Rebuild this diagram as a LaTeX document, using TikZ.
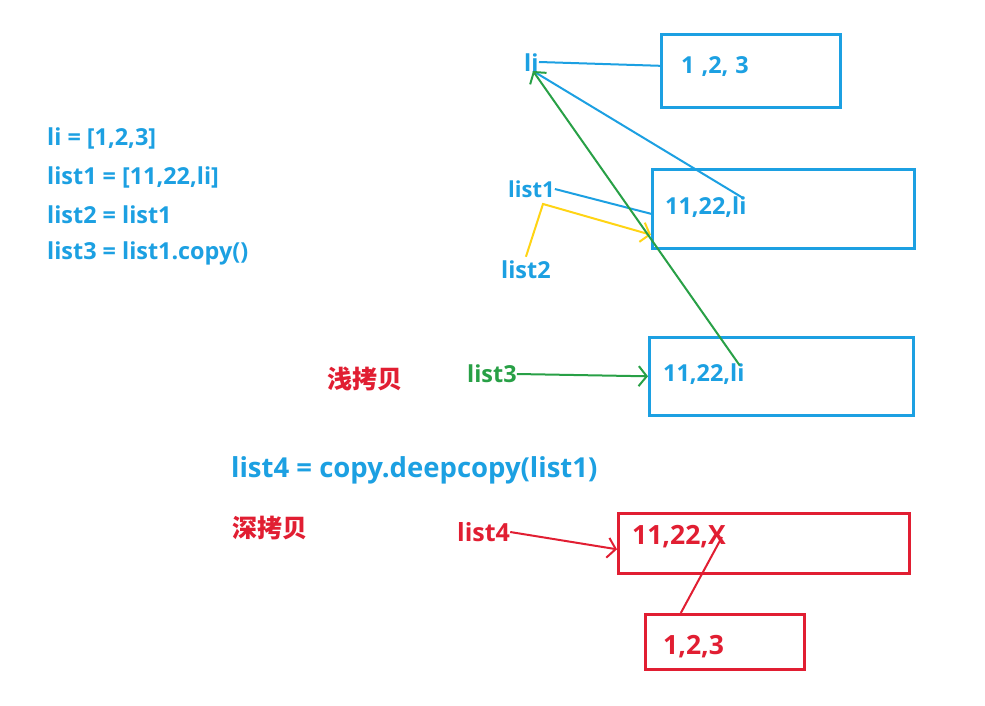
\documentclass[tikz,border=0pt]{standalone}
\usepackage{fontspec}
\setmainfont{Open Sans}
\newfontfamily\cjk{Noto Sans CJK SC}
\usetikzlibrary{arrows.meta}
\definecolor{cblue}{RGB}{28,160,226}
\definecolor{cgreen}{RGB}{40,160,70}
\definecolor{cred}{RGB}{225,30,50}
\definecolor{cyellow}{RGB}{255,212,20}
\tikzset{
  txt/.style={font=\fontsize{23.4}{26}\selectfont\bfseries, inner sep=0pt, anchor=west},
  bigtxt/.style={font=\fontsize{26.5}{30}\selectfont\bfseries, inner sep=0pt, anchor=west},
  cjktxt/.style={font=\fontsize{25}{28}\selectfont\cjk\bfseries, inner sep=0pt},
  bbox/.style={draw=cblue, line width=2.6pt, anchor=north west, inner sep=0pt},
  rbox/.style={draw=cred, line width=2.6pt, anchor=north west, inner sep=0pt},
  conn/.style={line width=2pt},
  barb/.style={-{Straight Barb[length=8pt,width=20pt,line width=2pt]}},
}
\begin{document}
\begin{tikzpicture}[x=1pt,y=-1pt]
\useasboundingbox[fill=white] (0,0) rectangle (985,706);
% code lines
\node[txt, text=cblue] (c1) at (47,138) {li = [1,2,3]};
\node[txt, text=cblue] (c2) at (47,177) {list1 = [11,22,li]};
\node[txt, text=cblue] (c3) at (47,215) {list2 = list1};
\node[txt, text=cblue] (c4) at (47,253) {list3 = list1.copy()};
% boxes
\node[bbox, minimum width=179pt, minimum height=73pt] (A) at (660,33) {};
\node[txt, text=cblue] (At) at (681,67) {1\hspace{7pt},2,\hspace{7pt}3};
\node[bbox, minimum width=262pt, minimum height=79pt] (B) at (651,168) {};
\node[txt, text=cblue] (Bt) at (665,207) {11,22,li};
\node[bbox, minimum width=264pt, minimum height=78pt] (C) at (648,336) {};
\node[txt, text=cblue] (Ct) at (663,374) {11,22,li};
% labels
\node[txt, text=cblue] (li) at (524,63) {li};
\node[txt, text=cblue, font=\fontsize{22}{26}\selectfont\bfseries] (l1) at (508,189) {list1};
\node[txt, text=cblue] (l2) at (501,270) {list2};
\node[txt, text=cgreen] (l3) at (467,374) {list3};
\node[cjktxt, text=cred] (shallow) at (365,379) {浅拷贝};
% deep copy
\node[txt, text=cblue, font=\fontsize{27.5}{31}\selectfont\bfseries] (c5) at (231,470) {list4 = copy.deepcopy(list1)};
\node[cjktxt, text=cred] (deep) at (270,528) {深拷贝};
\node[txt, text=cred, font=\fontsize{25}{28}\selectfont\bfseries] (l4) at (457,532) {list4};
\node[rbox, minimum width=291pt, minimum height=60pt] (D) at (617,512) {};
\node[bigtxt, text=cred] (Dt) at (632,537) {11,22,X};
\node[rbox, minimum width=159pt, minimum height=55pt] (E) at (644,613) {};
\node[bigtxt, text=cred] (Et) at (663,647) {1,2,3};
% connectors
\coordinate (liR) at (539,62);
\coordinate (liB) at (533,71);
\draw[conn, cblue] (liR) -- ([yshift=5pt]A.west);
\draw[conn, cblue] (liB) -- ([xshift=-3pt,yshift=-2pt]Bt.north east);
\draw[conn, cblue] (l1.east) -- ([yshift=-5pt]B.west);
\coordinate (ybend) at (543,204);
\draw[conn, cyellow, barb] (l2.north) ++(0,-4) -- (ybend) -- ([yshift=-26pt]B.west);
\draw[conn, cgreen, barb] ([xshift=-5pt,yshift=-2pt]Ct.north east) -- (liB);
\draw[conn, cgreen, barb] (l3.east) -- (C.west);
\draw[conn, cred, barb] (l4.east) -- ([yshift=-6pt]D.west);
\draw[conn, cred] ([xshift=-4pt]Dt.east) -- ([xshift=-44pt]E.north);
\end{tikzpicture}
\end{document}
